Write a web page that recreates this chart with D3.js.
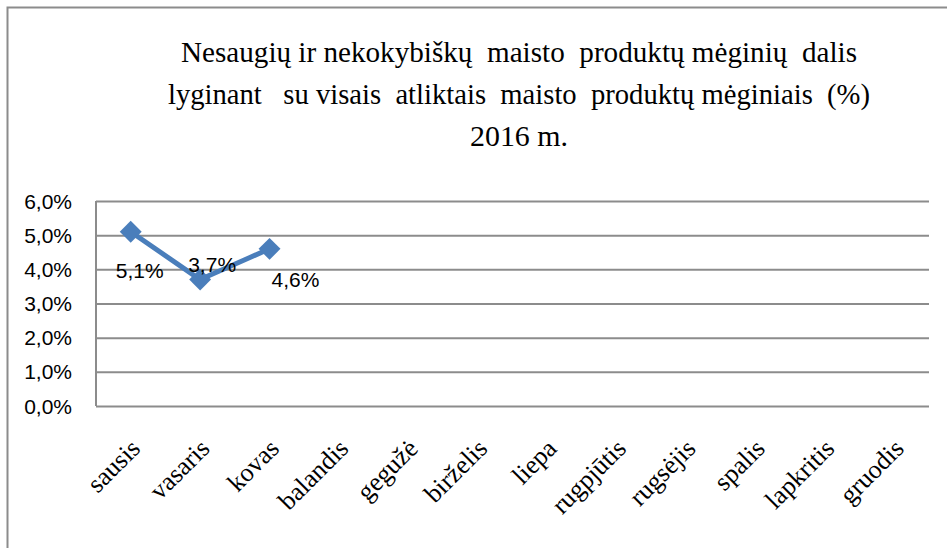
<!DOCTYPE html>
<meta charset="utf-8">
<body style="margin:0;background:#fff">
<svg width="947" height="548"></svg>
</body>
<script src="https://d3js.org/d3.v7.min.js"></script>
<script>
var months = ["sausis", "vasaris", "kovas", "balandis", "gegužė", "birželis",
              "liepa", "rugpjūtis", "rugsėjis", "spalis", "lapkritis", "gruodis"];
var values = [5.1, 3.7, 4.6];   // only Jan-Mar reported
var yTicks = [0, 1, 2, 3, 4, 5, 6];
var titleLines = ["Nesaugių ir nekokybiškų  maisto  produktų mėginių  dalis",
                  "lyginant   su visais  atliktais  maisto  produktų mėginiais  (%)",
                  "2016 m."];

// label offsets roughly like excel placed them
var labelOffsets = [[9, 46], [12, -8], [26, 38]];

var SANS = "'Liberation Sans', Arial, sans-serif";
var SERIF = "'Liberation Serif', 'DejaVu Serif', 'Noto Serif', serif";
var gridColor = "#8c8c8c";

var svg = d3.select("svg");
var margin = {left: 96, top: 201, right: 18, bottom: 142};
var width = 947 - margin.left - margin.right;
var height = 548 - margin.top - margin.bottom;

// outer chart border (runs off the right/bottom edge)
svg.append("rect")
    .attr("x", 7.5).attr("y", 7.5)
    .attr("width", 960).attr("height", 560)
    .attr("fill", "none")
    .attr("stroke", gridColor)
    .attr("stroke-width", 2);

var titleWidths = [676, 702, 98];
titleLines.forEach(function(t, i) {
    svg.append("text")
        .attr("x", 519)
        .attr("y", 62 + i * 42)
        .attr("text-anchor", "middle")
        .attr("font-family", SERIF)
        .attr("font-size", 29)
        .style("white-space", "pre")
        .attr("textLength", titleWidths[i])
        .attr("lengthAdjust", "spacingAndGlyphs")
        .text(t);
});

var g = svg.append("g")
    .attr("transform", "translate(" + margin.left + "," + margin.top + ")");

var x = d3.scaleBand().domain(months).range([0, width]);
var y = d3.scaleLinear().domain([0, 6]).range([height, 0]);

var grid = g.append("g")
    .call(d3.axisLeft(y).tickValues(yTicks).tickSize(-width).tickFormat(""));
grid.select(".domain").remove();
grid.selectAll("line")
    .attr("stroke", gridColor)
    .attr("stroke-width", 2);

g.append("line")
    .attr("x1", 0).attr("x2", 0)
    .attr("y1", 0).attr("y2", height)
    .attr("stroke", gridColor).attr("stroke-width", 2);

g.append("g")
    .selectAll("text")
    .data(yTicks)
    .enter().append("text")
    .attr("x", -24)
    .attr("y", function(d) { return y(d); })
    .attr("dy", "0.36em")
    .attr("text-anchor", "end")
    .attr("font-family", SANS)
    .attr("font-size", 21)
    .text(function(d) { return d.toFixed(1).replace(".", ",") + "%"; });

g.append("g")
    .selectAll("text")
    .data(months)
    .enter().append("text")
    .attr("text-anchor", "end")
    .attr("font-family", SERIF)
    .attr("font-size", 26)
    .attr("transform", function(d) {
        return "translate(" + (x(d) + x.bandwidth() / 2 + 11) + "," + (height + 44) + ") rotate(-45)";
    })
    .text(function(d) { return d; });

var pts = values.map(function(v, i) { return {m: months[i], v: v}; });

var line = d3.line()
    .x(function(d) { return x(d.m) + x.bandwidth() / 2; })
    .y(function(d) { return y(d.v); });

g.append("path")
    .datum(pts)
    .attr("fill", "none")
    .attr("stroke", "#4a7ebb")
    .attr("stroke-width", 5)
    .attr("stroke-linejoin", "round")
    .attr("d", line);

g.selectAll(".pt")
    .data(pts)
    .enter().append("path")
    .attr("class", "pt")
    .attr("transform", function(d) {
        return "translate(" + (x(d.m) + x.bandwidth() / 2) + "," + y(d.v) + ") rotate(45)";
    })
    .attr("d", d3.symbol().type(d3.symbolSquare).size(240))
    .attr("fill", "#4a7ebb");

g.selectAll(".lbl")
    .data(pts)
    .enter().append("text")
    .attr("class", "lbl")
    .attr("text-anchor", "middle")
    .attr("font-family", SANS)
    .attr("font-size", 21)
    .attr("x", function(d, i) { return x(d.m) + x.bandwidth() / 2 + labelOffsets[i][0]; })
    .attr("y", function(d, i) { return y(d.v) + labelOffsets[i][1]; })
    .text(function(d) { return d.v.toFixed(1).replace(".", ",") + "%"; });
</script>
